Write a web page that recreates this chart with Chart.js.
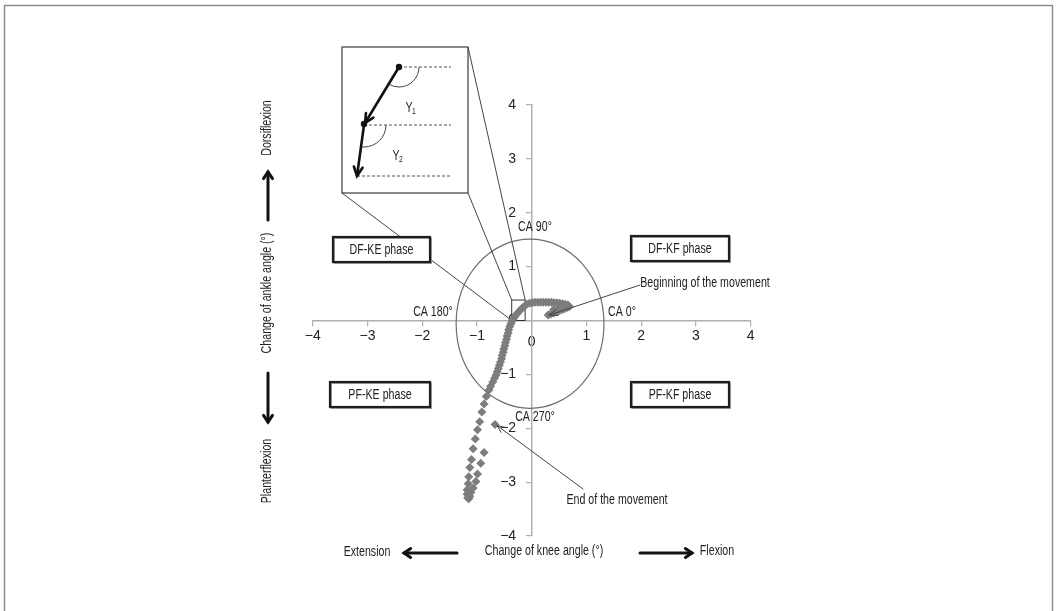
<!DOCTYPE html>
<html>
<head>
<meta charset="utf-8">
<script src="https://cdn.jsdelivr.net/npm/chart.js@4.4.1/dist/chart.umd.min.js"></script>
<style>
  html, body { margin: 0; padding: 0; background: #fff; }
  canvas { display: block; }
</style>
</head>
<body>
<canvas id="chart" width="1058" height="611"></canvas>
<script>
// Tick values shared by both axes
const axisTicks = [-4, -3, -2, -1, 0, 1, 2, 3, 4];

// Change of knee angle (deg) for each sample, in time order
const kneeChange = [
  0.30, 0.35, 0.40, 0.45, 0.50, 0.55, 0.60, 0.65, 0.69, 0.40, 0.50, 0.58,
  0.66, 0.61, 0.56, 0.51, 0.46, 0.41, 0.36, 0.31, 0.26, 0.21, 0.16, 0.11,
  0.06, 0.01, -0.04, -0.09, -0.13, -0.17, -0.21, -0.25, -0.28, -0.31, -0.34, -0.36,
  -0.38, -0.40, -0.42, -0.43, -0.45, -0.46, -0.48, -0.49, -0.51, -0.52, -0.54, -0.55,
  -0.57, -0.59, -0.61, -0.63, -0.65, -0.68, -0.71, -0.75, -0.78, -0.83, -0.87, -0.91,
  -0.95, -0.99, -1.03, -1.07, -1.10, -1.13, -1.15, -1.16, -1.18, -1.18, -1.17, -1.15,
  -1.13, -1.11, -1.07, -1.02, -0.99, -0.93, -0.87, -0.67, 0.62, 0.53
];

// Change of ankle angle (deg) for each sample, in time order
const ankleChange = [
  0.10, 0.12, 0.14, 0.16, 0.18, 0.20, 0.22, 0.24, 0.26, 0.20, 0.24, 0.27,
  0.29, 0.30, 0.31, 0.32, 0.33, 0.33, 0.34, 0.34, 0.34, 0.34, 0.34, 0.34,
  0.34, 0.33, 0.32, 0.30, 0.27, 0.23, 0.19, 0.15, 0.11, 0.07, 0.03, -0.01,
  -0.06, -0.11, -0.17, -0.23, -0.29, -0.35, -0.41, -0.47, -0.53, -0.59, -0.65, -0.71,
  -0.77, -0.83, -0.89, -0.95, -1.01, -1.07, -1.14, -1.22, -1.29, -1.41, -1.55, -1.70,
  -1.88, -2.03, -2.20, -2.38, -2.58, -2.73, -2.90, -3.03, -3.14, -3.22, -3.29, -3.31,
  -3.26, -3.19, -3.11, -2.99, -2.85, -2.65, -2.45, -1.93, 0.28, 0.25
];

const phaseLabels = ['DF-KE phase', 'DF-KF phase', 'PF-KE phase', 'PF-KF phase'];
const angleLabels = ['CA 0°', 'CA 90°', 'CA 180°', 'CA 270°'];
const kneeAxisTitle = 'Change of knee angle (°)';
const ankleAxisTitle = 'Change of ankle angle (°)';
const directionLabels = ['Extension', 'Flexion', 'Dorsiflexion', 'Planterflexion'];
const movementLabels = ['Beginning of the movement', 'End of the movement'];

const FONT = '"Liberation Sans", Arial, sans-serif';
const TEXT_SIZE = 14;
const NARROW = 0.76;   // horizontal squeeze for a condensed look
const INK = '#222';
const MINUS = '\u2212';

function arrowHead(ctx, x1, y1, x2, y2, size, spread) {
  const a = Math.atan2(y2 - y1, x2 - x1);
  ctx.beginPath();
  ctx.moveTo(x2 - size * Math.cos(a - spread), y2 - size * Math.sin(a - spread));
  ctx.lineTo(x2, y2);
  ctx.lineTo(x2 - size * Math.cos(a + spread), y2 - size * Math.sin(a + spread));
  ctx.stroke();
}

function arrowLine(ctx, x1, y1, x2, y2, width, color, size, spread) {
  ctx.save();
  ctx.strokeStyle = color;
  ctx.lineWidth = width;
  ctx.lineCap = 'round';
  ctx.lineJoin = 'miter';
  ctx.beginPath();
  ctx.moveTo(x1, y1);
  ctx.lineTo(x2, y2);
  ctx.stroke();
  arrowHead(ctx, x1, y1, x2, y2, size, spread);
  ctx.restore();
}

function text(ctx, str, x, y, size, rot) {
  ctx.save();
  ctx.fillStyle = INK;
  ctx.font = size + 'px ' + FONT;
  ctx.textAlign = 'center';
  ctx.textBaseline = 'middle';
  ctx.translate(x, y);
  if (rot) ctx.rotate(rot);
  ctx.scale(NARROW, 1);
  ctx.fillText(str, 0, 0);
  ctx.restore();
}

// Circle of coupling angles, zoom square and callout lines (under the points)
const underlayPlugin = {
  id: 'underlay',
  beforeDatasetsDraw(chart) {
    const {ctx, scales: {x, y}} = chart;
    ctx.save();
    // coupling-angle circle
    const cx = x.getPixelForValue(-0.03), cy = y.getPixelForValue(-0.06);
    const rx = x.getPixelForValue(1.32) - cx;
    const ry = cy - y.getPixelForValue(1.51);
    ctx.strokeStyle = '#6e6e6e';
    ctx.lineWidth = 1.2;
    ctx.beginPath();
    ctx.ellipse(cx, cy, rx, ry, 0, 0, Math.PI * 2);
    ctx.stroke();

    // small square around the start of the curve
    const sx1 = x.getPixelForValue(-0.365), sx2 = x.getPixelForValue(-0.12);
    const sy1 = y.getPixelForValue(0.38), sy2 = y.getPixelForValue(0.0);
    ctx.strokeStyle = '#333';
    ctx.lineWidth = 1;
    ctx.strokeRect(sx1, sy1, sx2 - sx1, sy2 - sy1);

    // callout lines from the magnified inset
    ctx.strokeStyle = '#444';
    ctx.beginPath();
    ctx.moveTo(342, 193); ctx.lineTo(sx1, sy2);
    ctx.moveTo(468, 193); ctx.lineTo(sx1, sy1);
    ctx.moveTo(468, 47); ctx.lineTo(sx2, sy1);
    ctx.stroke();
    ctx.restore();
  }
};

// Text, phase boxes, arrows and inset drawn on top
const overlayPlugin = {
  id: 'overlay',
  afterDraw(chart) {
    const {ctx, scales: {x, y}} = chart;
    const S = TEXT_SIZE;
    ctx.save();

    // outer frame
    ctx.strokeStyle = '#8c8c8c';
    ctx.lineWidth = 1.5;
    ctx.strokeRect(4.5, 5.5, 1048, 700);

    // phase boxes
    const boxes = [
      [333, 237, 97, 25],
      [631, 236, 98, 25],
      [330, 382, 100, 25],
      [631, 382, 98, 25]
    ];
    boxes.forEach((b, i) => {
      ctx.fillStyle = '#fff';
      ctx.fillRect(b[0], b[1], b[2], b[3]);
      ctx.strokeStyle = '#9a9a9a';
      ctx.lineWidth = 1.5;
      ctx.strokeRect(b[0] + 1.2, b[1] + 1.2, b[2], b[3]);
      ctx.strokeStyle = '#1e1e1e';
      ctx.lineWidth = 2.2;
      ctx.strokeRect(b[0], b[1], b[2], b[3]);
      text(ctx, phaseLabels[i], b[0] + b[2] / 2, b[1] + b[3] / 2 + 0.5, S);
    });

    // coupling-angle labels
    text(ctx, angleLabels[0], 622, 312, S);
    text(ctx, angleLabels[1], 535, 227, S);
    text(ctx, angleLabels[2], 433, 312, S);
    text(ctx, angleLabels[3], 535, 417, S);

    // movement annotations pointing at first and last samples
    const last = 79;
    const bx = x.getPixelForValue(kneeChange[0]), by = y.getPixelForValue(ankleChange[0]);
    arrowLine(ctx, 640, 285, bx + 1, by, 1, '#444', 9, 0.35);
    text(ctx, movementLabels[0], 705, 283, S);
    const ex = x.getPixelForValue(kneeChange[last]), ey = y.getPixelForValue(ankleChange[last]);
    arrowLine(ctx, 583, 489, ex + 2, ey + 1, 1, '#444', 8, 0.4);
    text(ctx, movementLabels[1], 617, 500, S);

    // axis direction captions
    text(ctx, directionLabels[0], 367, 552, S);
    text(ctx, kneeAxisTitle, 544, 551, S);
    text(ctx, directionLabels[1], 717, 551, S);
    arrowLine(ctx, 457, 553, 404, 553, 3, '#111', 8, 0.6);
    arrowLine(ctx, 640, 553, 692, 553, 3, '#111', 8, 0.6);

    text(ctx, directionLabels[2], 267, 128, S, -Math.PI / 2);
    text(ctx, ankleAxisTitle, 267, 293, S, -Math.PI / 2);
    text(ctx, directionLabels[3], 267, 471, S, -Math.PI / 2);
    arrowLine(ctx, 268, 220, 268, 172, 3, '#111', 8, 0.6);
    arrowLine(ctx, 268, 373, 268, 422, 3, '#111', 8, 0.6);

    // magnified inset
    ctx.fillStyle = '#fff';
    ctx.strokeStyle = '#3a3a3a';
    ctx.lineWidth = 1.2;
    ctx.fillRect(342, 47, 126, 146);
    ctx.strokeRect(342, 47, 126, 146);

    ctx.strokeStyle = '#555';
    ctx.lineWidth = 1;
    ctx.setLineDash([3, 2]);
    ctx.beginPath();
    ctx.moveTo(399, 67); ctx.lineTo(451, 67);
    ctx.moveTo(364, 125); ctx.lineTo(451, 125);
    ctx.moveTo(357, 176); ctx.lineTo(451, 176);
    ctx.stroke();
    ctx.setLineDash([]);

    ctx.strokeStyle = '#444';
    ctx.lineWidth = 1;
    ctx.beginPath();
    ctx.arc(399, 67, 20, 0, Math.atan2(57, -35));
    ctx.stroke();
    ctx.beginPath();
    ctx.arc(364, 125, 22, 0, Math.atan2(51, -7));
    ctx.stroke();

    arrowLine(ctx, 399, 67, 365, 123, 2.6, '#111', 10, 0.45);
    arrowLine(ctx, 364, 125, 357, 176, 2.6, '#111', 10, 0.45);
    ctx.fillStyle = '#111';
    ctx.beginPath(); ctx.arc(399, 67, 3.2, 0, Math.PI * 2); ctx.fill();
    ctx.beginPath(); ctx.arc(364, 124, 3.2, 0, Math.PI * 2); ctx.fill();

    text(ctx, '\u03A5', 409, 108, S);
    text(ctx, '\u03A5', 396, 156, S);
    text(ctx, '1', 414, 112, 9);
    text(ctx, '2', 401, 160, 9);

    ctx.restore();
  }
};

const tickLabel = v => (v < 0 ? MINUS + Math.abs(v) : String(v));

new Chart(document.getElementById('chart'), {
  type: 'scatter',
  data: {
    datasets: [{
      data: kneeChange.map((v, i) => ({x: v, y: ankleChange[i]})),
      pointStyle: 'rectRot',
      pointRadius: 4.5,
      pointBorderWidth: 0,
      backgroundColor: '#7d7d7d',
      borderColor: '#7d7d7d',
      showLine: false
    }]
  },
  options: {
    responsive: false,
    animation: false,
    devicePixelRatio: 1,
    events: [],
    layout: { padding: { left: 312.7, right: 307.3, top: 105, bottom: 75 } },
    plugins: { legend: { display: false }, tooltip: { enabled: false } },
    scales: {
      x: {
        type: 'linear',
        position: { y: 0 },
        min: -4, max: 4,
        afterBuildTicks: s => { s.ticks = axisTicks.map(v => ({value: v})); },
        grid: { drawOnChartArea: false, drawTicks: true, tickLength: 5, color: '#b0b0b0', lineWidth: 1.2 },
        border: { display: true, color: '#b0b0b0', width: 1.5 },
        ticks: {
          padding: 2,
          color: INK,
          // the zero label sits a little lower than its neighbours
          font: c => ({ family: FONT, size: 14, lineHeight: c.tick && c.tick.value === 0 ? 0.69 : 1.2 }),
          callback: v => (v === 0 ? ['', '0'] : tickLabel(v))
        }
      },
      y: {
        type: 'linear',
        position: { x: 0 },
        min: -4, max: 4,
        afterBuildTicks: s => { s.ticks = axisTicks.map(v => ({value: v})); },
        grid: { drawOnChartArea: false, drawTicks: true, tickLength: 5, color: '#b0b0b0', lineWidth: 1.2 },
        border: { display: true, color: '#b0b0b0', width: 1.5 },
        ticks: {
          color: INK,
          font: { family: FONT, size: 14 },
          // trailing spaces keep the right-aligned labels clear of the axis
          callback: v => tickLabel(v) + '    '
        }
      }
    }
  },
  plugins: [underlayPlugin, overlayPlugin]
});
</script>
</body>
</html>
